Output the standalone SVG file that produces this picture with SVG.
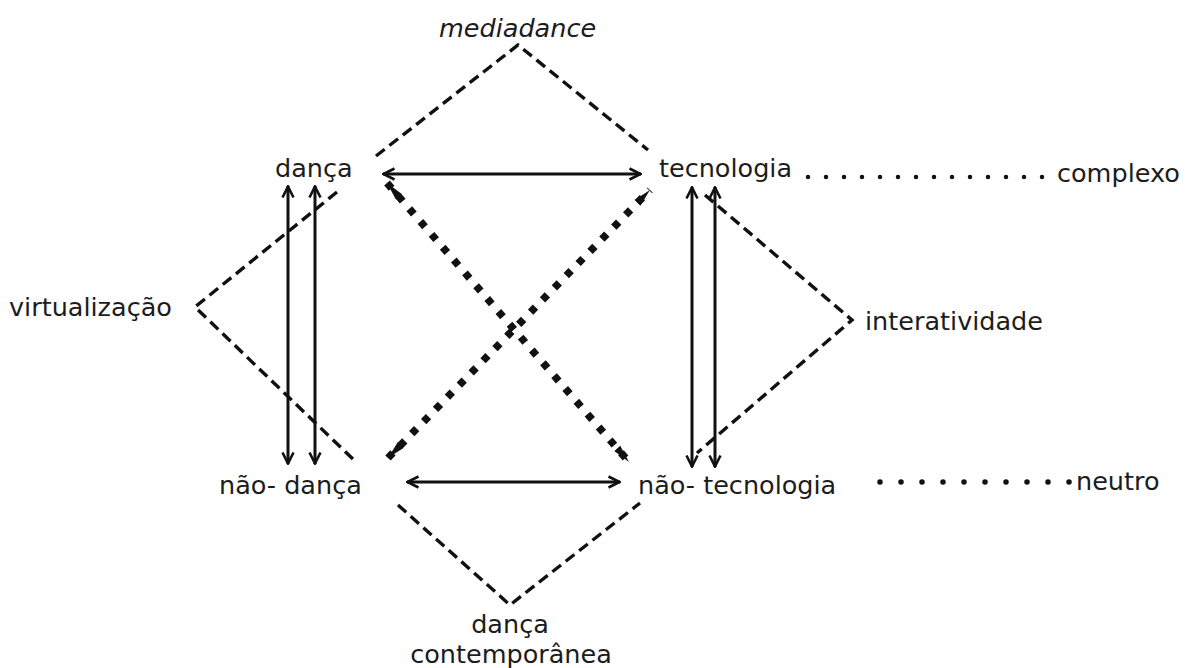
<svg xmlns="http://www.w3.org/2000/svg" width="1190" height="668" viewBox="0 0 1190 668">
<style>
  text { font-family: "DejaVu Sans", "Liberation Sans", sans-serif; font-size: 25.5px; fill: #1c1c1c; }
  .it { font-style: italic; }
  .solid { stroke: #111; stroke-width: 3; fill: none; }
  .dash { stroke: #111; stroke-width: 3.4; fill: none; stroke-dasharray: 11 6; }
  .xdot { stroke: #111; stroke-width: 7.5; fill: none; stroke-dasharray: 7 10; }
  .dotA { stroke: #111; stroke-width: 4.5; fill: none; stroke-dasharray: 0 18; stroke-linecap: round; }
  .dotB { stroke: #111; stroke-width: 5.5; fill: none; stroke-dasharray: 0 21; stroke-linecap: round; }
</style>
<defs>
  <marker id="ah" viewBox="0 0 14 14" refX="13" refY="7" markerWidth="14" markerHeight="14" markerUnits="userSpaceOnUse" orient="auto-start-reverse">
    <path d="M1.5,1.5 L12.5,7 L1.5,12.5" fill="none" stroke="#111" stroke-width="2.6"/>
  </marker>
  <marker id="dh" viewBox="0 0 18 10" refX="18" refY="5" markerWidth="18" markerHeight="10" markerUnits="userSpaceOnUse" orient="auto-start-reverse">
    <path d="M0,1 L18,5 L0,9 Z" fill="#111"/>
  </marker>
</defs>
<rect width="1190" height="668" fill="#ffffff"/>

<g id="connectors">
  <line class="solid" x1="383" y1="174" x2="641" y2="174" marker-start="url(#ah)" marker-end="url(#ah)"/>
  <line class="solid" x1="407" y1="482" x2="620" y2="482" marker-start="url(#ah)" marker-end="url(#ah)"/>
  <line class="solid" x1="288" y1="186" x2="288" y2="464" marker-start="url(#ah)" marker-end="url(#ah)"/>
  <line class="solid" x1="315" y1="186" x2="315" y2="464" marker-start="url(#ah)" marker-end="url(#ah)"/>
  <line class="solid" x1="692" y1="187" x2="692" y2="467" marker-start="url(#ah)" marker-end="url(#ah)"/>
  <line class="solid" x1="715" y1="187" x2="715" y2="467" marker-start="url(#ah)" marker-end="url(#ah)"/>
  <line class="xdot" x1="387" y1="183" x2="629" y2="462" marker-start="url(#dh)" marker-end="url(#dh)"/>
  <line class="xdot" x1="388" y1="458" x2="650" y2="190" marker-start="url(#dh)" marker-end="url(#dh)"/>
  <polyline class="dash" points="376,156 518,45 648,150"/>
  <polyline class="dash" points="337,192 195,307 357,463"/>
  <polyline class="dash" points="705,195 852,320 697,453"/>
  <polyline class="dash" points="398,505 510,605 640,503"/>
  <line class="dotA" x1="808" y1="177" x2="1052" y2="177"/>
  <line class="dotB" x1="880" y1="482" x2="1070" y2="482"/>
</g>

<g id="mediadance"><text class="it" x="439" y="37">mediadance</text></g>
<g id="danca"><text x="275" y="177">dança</text></g>
<g id="tecnologia"><text x="659" y="177">tecnologia</text></g>
<g id="complexo"><text x="1057" y="182">complexo</text></g>
<g id="virtualizacao"><text x="9" y="316">virtualização</text></g>
<g id="interatividade"><text x="865" y="330">interatividade</text></g>
<g id="nao-danca"><text x="219" y="494">não- dança</text></g>
<g id="nao-tecnologia"><text x="638" y="494">não- tecnologia</text></g>
<g id="neutro"><text x="1076" y="490">neutro</text></g>
<g id="danca-contemporanea">
  <text x="510" y="633" text-anchor="middle">dança</text>
  <text x="511" y="663" text-anchor="middle">contemporânea</text>
</g>
</svg>
